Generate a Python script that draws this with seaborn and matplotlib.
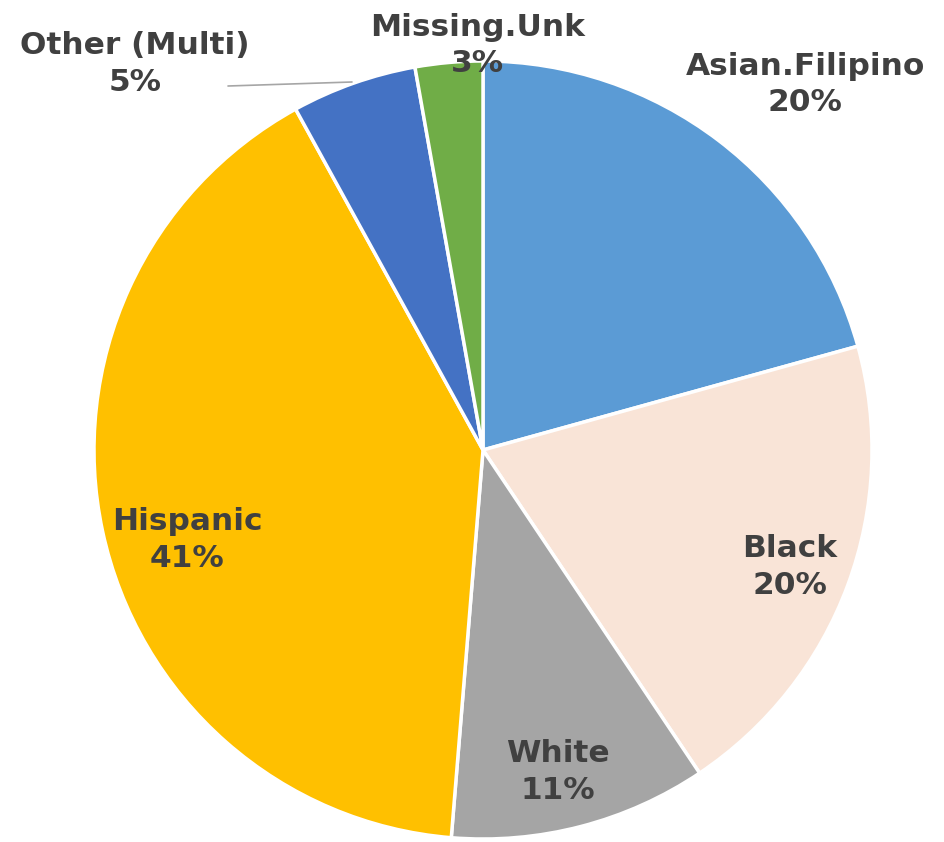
import matplotlib
matplotlib.use("Agg")
import matplotlib.pyplot as plt
import seaborn as sns
import numpy as np

sns.set_theme(style="white")
plt.rcParams['font.family'] = ['DejaVu Sans']

categories = ["Asian.Filipino", "Black", "White", "Hispanic", "Other (Multi)", "Missing.Unk"]
values = [20.7, 19.9, 10.7, 40.7, 5.2, 2.8]
pct_labels = ["20%", "20%", "11%", "41%", "5%", "3%"]
colors = ["#5B9BD5", "#F9E4D7", "#A5A5A5", "#FFC000", "#4472C4", "#70AD47"]

# label positions in data coords (pie radius = 1)
label_pos = [(0.828, 0.940), (0.789, -0.301), (0.193, -0.828),
             (-0.761, -0.231), (-0.895, 0.993), (-0.015, 1.040)]

W, H = 945, 842
fig = plt.figure(figsize=(W / 100, H / 100), dpi=100)
cx, cy, R = 483, 842 - 450, 389
ax = fig.add_axes([(cx - R) / W, (cy - R) / H, 2 * R / W, 2 * R / H])

wedges, _ = ax.pie(values, colors=colors, startangle=90, counterclock=False,
                   radius=1.0, wedgeprops=dict(edgecolor="white", linewidth=2.5))
ax.set_xlim(-1, 1)
ax.set_ylim(-1, 1)
ax.set_aspect("equal")
ax.axis("off")

for cat, pct, (x, y) in zip(categories, pct_labels, label_pos):
    ax.text(x, y, f"{cat}\n{pct}", ha="center", va="center", fontsize=22.5,
            fontweight="bold", color="#404040", linespacing=1.33, clip_on=False)

# leader line for Other (Multi)
ax.plot([(228 - cx) / R, (352 - cx) / R], [(450 - 86) / R, (450 - 82) / R],
        color="#A6A6A6", linewidth=1.2, clip_on=False)

fig.savefig("out.png", dpi=100)
